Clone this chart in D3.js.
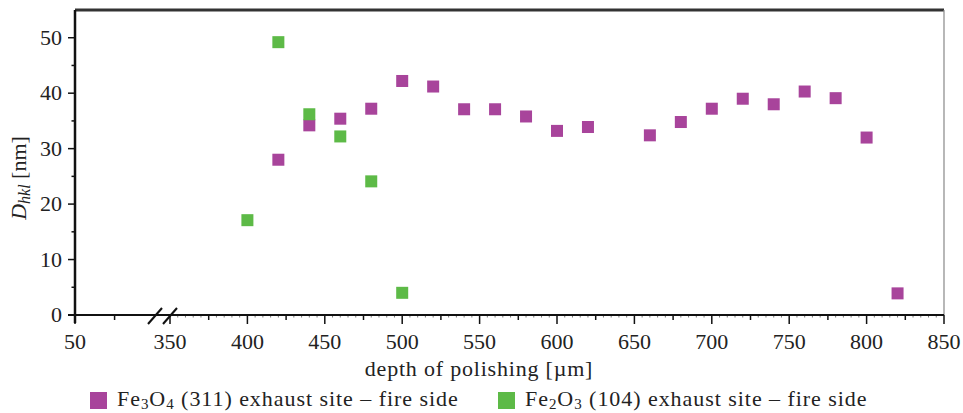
<!DOCTYPE html>
<html>
  <head>
    <script src="https://cdnjs.cloudflare.com/ajax/libs/d3/7.8.5/d3.min.js"></script>
    <style>
      body {
        margin: 0;
        background: #fff;
      }
    </style>
  </head>
  <body>
    <svg id="chart" width="963" height="413" font-family="'Liberation Serif', 'Times New Roman', Times, 'DejaVu Serif', serif"></svg>
    <script>
      // depth of polishing [um]
      const fe3o4Depth = [420, 440, 460, 480, 500, 520, 540, 560, 580, 600, 620, 660, 680, 700, 720, 740, 760, 780, 800, 820];
      const fe3o4Size = [28.0, 34.2, 35.4, 37.2, 42.2, 41.2, 37.1, 37.1, 35.8, 33.2, 33.9, 32.4, 34.8, 37.2, 39.0, 38.0, 40.3, 39.1, 32.0, 3.9];
      const fe2o3Depth = [400, 420, 440, 460, 480, 500];
      const fe2o3Size = [17.1, 49.2, 36.2, 32.2, 24.1, 4.0];
      const xTickValues = [50, 350, 400, 450, 500, 550, 600, 650, 700, 750, 800, 850];
      const yTickValues = [0, 10, 20, 30, 40, 50];

      const magenta = "#a8449b";
      const green = "#5dba47";

      const svg = d3.select("#chart");
      const plotLeft = 75, plotRight = 944, plotTop = 10, plotBottom = 315;

      // broken axis: 50 then jump to 350
      const x = d3.scaleLinear().domain([50, 350, 850]).range([plotLeft, 170, plotRight]);
      const y = d3.scaleLinear().domain([0, 55]).range([plotBottom, plotTop]);

      // top and right frame
      svg.append("line")
        .attr("x1", plotLeft).attr("x2", plotRight).attr("y1", plotTop).attr("y2", plotTop)
        .attr("stroke", "#333").attr("stroke-width", 3);
      svg.append("line")
        .attr("x1", plotRight).attr("x2", plotRight).attr("y1", plotTop).attr("y2", plotBottom)
        .attr("stroke", "#888").attr("stroke-width", 1.2);

      // x axis
      const xAxis = svg.append("g").attr("transform", `translate(0,${plotBottom})`);
      const smallTicks = d3.range(355, 850, 5).filter((d) => d % 25 !== 0);
      xAxis.selectAll("line.small")
        .data(smallTicks)
        .enter()
        .append("line")
        .attr("x1", (d) => x(d)).attr("x2", (d) => x(d))
        .attr("y1", 0).attr("y2", 2.5)
        .attr("stroke", "#555").attr("stroke-width", 0.8);
      const midTicks = [175].concat(d3.range(375, 850, 50));
      xAxis.selectAll("line.mid")
        .data(midTicks)
        .enter()
        .append("line")
        .attr("x1", (d) => x(d)).attr("x2", (d) => x(d))
        .attr("y1", 0).attr("y2", 5)
        .attr("stroke", "#111").attr("stroke-width", 1.5);
      xAxis.selectAll("line.major")
        .data(xTickValues)
        .enter()
        .append("line")
        .attr("x1", (d) => x(d)).attr("x2", (d) => x(d))
        .attr("y1", 0).attr("y2", 9)
        .attr("stroke", "#111").attr("stroke-width", 1.5);
      xAxis.append("line")
        .attr("x1", plotLeft - 7).attr("x2", plotRight).attr("y1", 0).attr("y2", 0)
        .attr("stroke", "#111").attr("stroke-width", 2);
      xAxis.selectAll("text")
        .data(xTickValues)
        .enter()
        .append("text")
        .attr("x", (d) => x(d))
        .attr("y", 34)
        .attr("text-anchor", "middle")
        .attr("font-size", 22)
        .attr("fill", "#222")
        .text((d) => d);

      // break marks
      [x(350) - 15, x(350)].forEach((cx) => {
        xAxis.append("line")
          .attr("x1", cx - 7).attr("x2", cx + 7)
          .attr("y1", 9).attr("y2", -7)
          .attr("stroke", "#111").attr("stroke-width", 2);
      });

      // y axis
      const yAxis = svg.append("g").attr("transform", `translate(${plotLeft},0)`);
      yAxis.selectAll("line.minor")
        .data(d3.range(5, 55, 10))
        .enter()
        .append("line")
        .attr("x1", -3.5).attr("x2", 0)
        .attr("y1", (d) => y(d)).attr("y2", (d) => y(d))
        .attr("stroke", "#111").attr("stroke-width", 1.5);
      yAxis.selectAll("line.major")
        .data(yTickValues)
        .enter()
        .append("line")
        .attr("x1", -7).attr("x2", 0)
        .attr("y1", (d) => y(d)).attr("y2", (d) => y(d))
        .attr("stroke", "#111").attr("stroke-width", 1.5);
      yAxis.append("line")
        .attr("x1", 0).attr("x2", 0).attr("y1", plotTop).attr("y2", plotBottom + 8)
        .attr("stroke", "#111").attr("stroke-width", 2.5);
      yAxis.selectAll("text")
        .data(yTickValues)
        .enter()
        .append("text")
        .attr("x", -13)
        .attr("y", (d) => y(d) + 7)
        .attr("text-anchor", "end")
        .attr("font-size", 22)
        .attr("fill", "#222")
        .text((d) => d);

      // axis titles
      svg.append("text")
        .attr("x", 479)
        .attr("y", 376)
        .attr("text-anchor", "middle")
        .attr("font-size", 22)
        .attr("letter-spacing", 0.8)
        .attr("fill", "#222")
        .text("depth of polishing [\u00b5m]");

      const yTitle = svg.append("text")
        .attr("transform", "translate(26,178) rotate(-90)")
        .attr("text-anchor", "middle")
        .attr("font-size", 22)
        .attr("fill", "#222");
      yTitle.append("tspan").attr("font-style", "italic").text("D");
      yTitle.append("tspan").attr("font-style", "italic").attr("font-size", 16).attr("dy", 4).text("hkl");
      yTitle.append("tspan").attr("dy", -4).text(" [nm]");

      // markers
      const size = 12;
      svg.append("g")
        .selectAll("rect")
        .data(d3.zip(fe3o4Depth, fe3o4Size))
        .enter()
        .append("rect")
        .attr("x", (d) => x(d[0]) - size / 2)
        .attr("y", (d) => y(d[1]) - size / 2)
        .attr("width", size).attr("height", size)
        .attr("fill", magenta);
      svg.append("g")
        .selectAll("rect")
        .data(d3.zip(fe2o3Depth, fe2o3Size))
        .enter()
        .append("rect")
        .attr("x", (d) => x(d[0]) - size / 2)
        .attr("y", (d) => y(d[1]) - size / 2)
        .attr("width", size).attr("height", size)
        .attr("fill", green);

      // legend
      const legend = [
        { color: magenta, sub: ["Fe", "3", "O", "4"], rest: " (311) exhaust site \u2013 fire side", x: 90 },
        { color: green, sub: ["Fe", "2", "O", "3"], rest: " (104) exhaust site \u2013 fire side", x: 498 },
      ];
      legend.forEach((l) => {
        svg.append("rect")
          .attr("x", l.x).attr("y", 392)
          .attr("width", 17).attr("height", 17)
          .attr("fill", l.color);
        const t = svg.append("text")
          .attr("x", l.x + 27).attr("y", 406)
          .attr("font-size", 22)
          .attr("letter-spacing", 0.95)
          .attr("fill", "#222");
        t.append("tspan").text(l.sub[0]);
        t.append("tspan").attr("font-size", 15).attr("dy", 3).text(l.sub[1]);
        t.append("tspan").attr("dy", -3).text(l.sub[2]);
        t.append("tspan").attr("font-size", 15).attr("dy", 3).text(l.sub[3]);
        t.append("tspan").attr("dy", -3).text(l.rest);
      });
    </script>
  </body>
</html>
